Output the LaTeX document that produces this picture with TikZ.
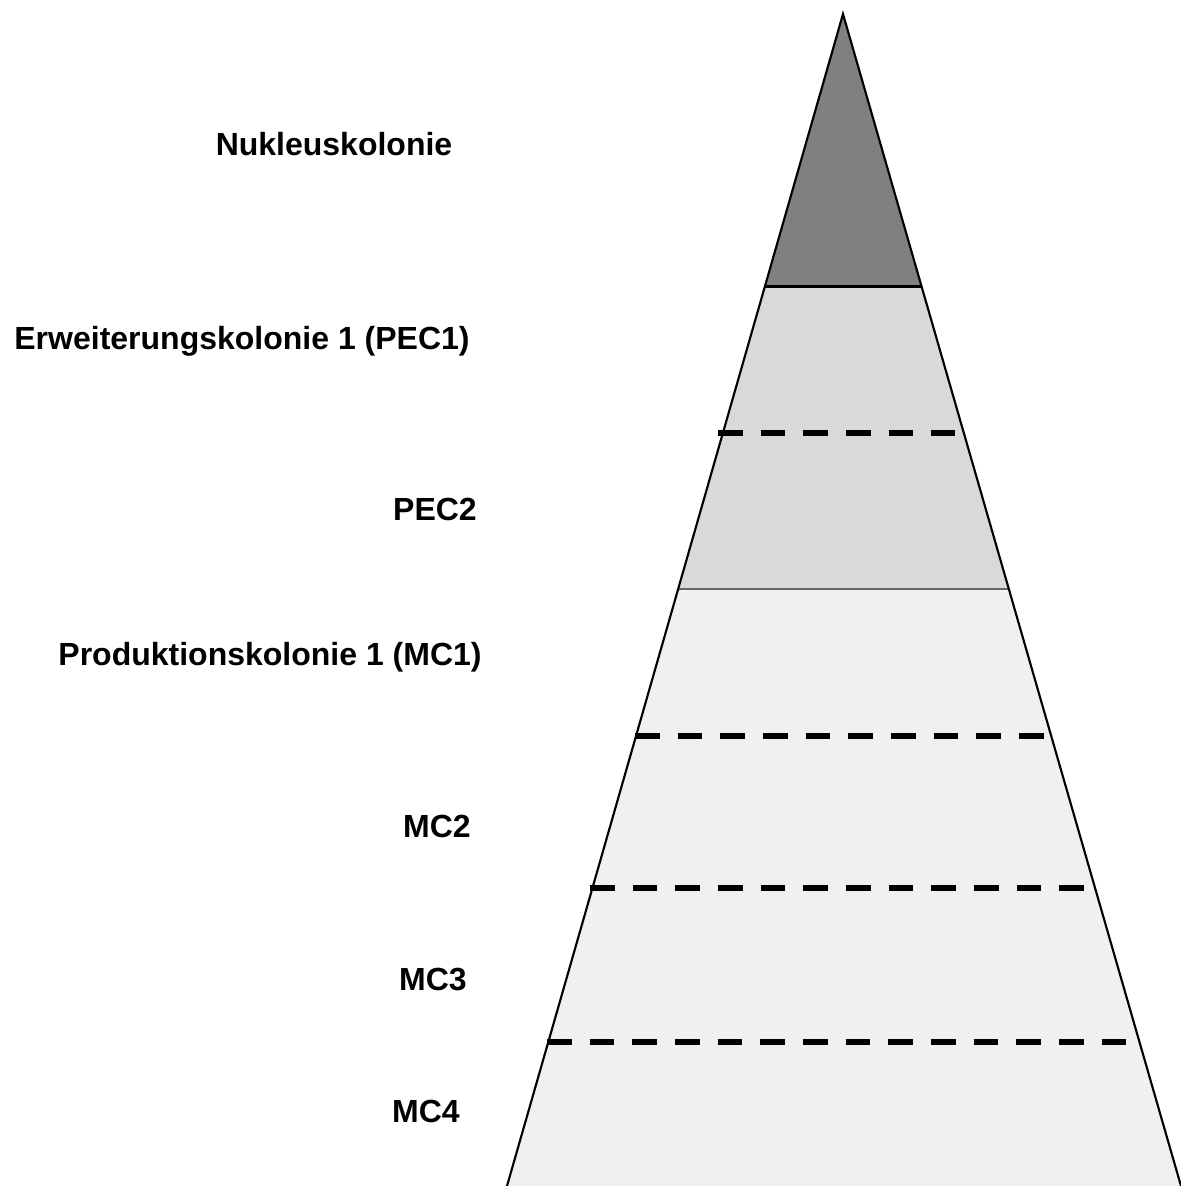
\documentclass[tikz,border=0pt]{standalone}
\usepackage{fontspec}
\setmainfont{Liberation Sans}
\usetikzlibrary{calc}

\begin{document}
\begin{tikzpicture}[x=0.75pt,y=-0.75pt]

\tikzset{
  level/.style={font=\fontsize{24}{28}\selectfont\bfseries, anchor=base, inner sep=0},
  divider/.style={black, line width=3.9pt, dash pattern=on 18.5pt off 13.5pt},
}

\useasboundingbox (0,0) rectangle (1181,1186);

\coordinate (top) at (843,14);
\coordinate (bl) at (507,1186);
\coordinate (br) at (1181,1186);
\coordinate (nl) at ($(top)!0.2325!(bl)$);
\coordinate (nr) at ($(top)!0.2325!(br)$);
\coordinate (pl) at ($(top)!0.4906!(bl)$);
\coordinate (pr) at ($(top)!0.4906!(br)$);

% bands of the pyramid
\fill[black!6] (pl) -- (pr) -- (br) -- (bl) -- cycle;
\fill[black!15] (nl) -- (nr) -- (pr) -- (pl) -- cycle;
\fill[black!50] (top) -- (nr) -- (nl) -- cycle;

\draw[black, line width=1.6pt] (nl) -- (nr);
\draw[black!60, line width=1.2pt] (pl) -- (pr);
\draw[black, line width=1.6pt, line join=miter] (bl) -- (top) -- (br);

% dashed steps
\draw[divider] (718,433) -- (955,433);
\draw[divider] (635,736) -- (1046,736);
\draw[divider] (590,888) -- (1090,888);
\draw[divider] (547,1042) -- (1130,1042);

% labels
\node[level] (nuc) at (334,155) {Nukleuskolonie};
\node[level] (pec1) at (242,349) {Erweiterungskolonie 1 (PEC1)};
\node[level] (pec2) at (435,520) {PEC2};
\node[level] (mc1) at (270,665) {Produktionskolonie 1 (MC1)};
\node[level] (mc2) at (437,837) {MC2};
\node[level] (mc3) at (433,990) {MC3};
\node[level] (mc4) at (426,1122) {MC4};

\end{tikzpicture}
\end{document}
